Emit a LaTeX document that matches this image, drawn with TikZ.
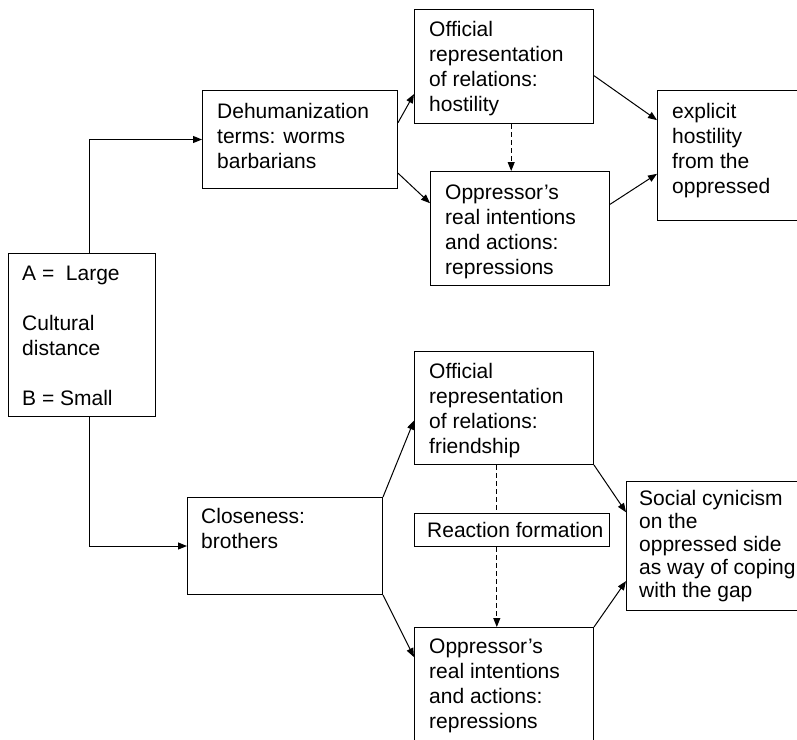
\documentclass[tikz,border=0pt]{standalone}
\usepackage{fontspec}
\setmainfont{Liberation Sans}
\usetikzlibrary{arrows.meta,calc}
\begin{document}
\begin{tikzpicture}[x=1pt,y=-1pt,
  box/.style={draw, line width=1pt, inner sep=0pt, anchor=north west},
  txt/.style={anchor=north west, inner sep=0pt, align=left, font=\fontsize{21}{25}\selectfont},
  txtt/.style={anchor=north west, inner sep=0pt, align=left, font=\fontsize{21}{23}\selectfont},
  arr/.style={line width=1pt, -{Triangle[length=9pt,width=7pt]}},
  dsh/.style={line width=1pt, dash pattern=on 5pt off 3pt}]
\useasboundingbox (0,0) rectangle (797,739);
\clip (0,0) rectangle (797,739);
% boxes
\node[box, minimum width=147pt, minimum height=163pt] (A) at (8,253) {};
\node[box, minimum width=195pt, minimum height=98pt] (deh) at (202,90) {};
\node[box, minimum width=179pt, minimum height=114pt] (off1) at (414,9) {};
\node[box, minimum width=179pt, minimum height=114pt] (opp1) at (430,171) {};
\node[box, minimum width=160pt, minimum height=130pt] (exp) at (657,90) {};
\node[box, minimum width=179pt, minimum height=113pt] (off2) at (414,351) {};
\node[box, minimum width=195pt, minimum height=33pt] (rea) at (414,513) {};
\node[box, minimum width=179pt, minimum height=130pt] (opp2) at (414,627) {};
\node[box, minimum width=190pt, minimum height=129pt] (soc) at (626,481) {};
\node[box, minimum width=195pt, minimum height=97pt] (clo) at (187,497) {};
% texts
\node[txt] (tA) at (22,262.5) {\strut A =\ \ Large\\[25pt]Cultural\\distance\\[25pt]B = Small};
\node[txt] (tdeh) at (217,100.5) {\strut Dehumanization\\terms: worms\\barbarians};
\node[txt] (toff1) at (429,18.5) {\strut Official\\representation\\of relations:\\hostility};
\node[txt] (topp1) at (445,181.5) {\strut Oppressor’s\\real intentions\\and actions:\\repressions};
\node[txt] (texp) at (672,100.5) {\strut explicit\\hostility\\from the\\oppressed};
\node[txt] (toff2) at (429,360.5) {\strut Official\\representation\\of relations:\\friendship};
\node[txt] (trea) at (427,519.5) {\strut Reaction formation};
\node[txt] (topp2) at (429,635.5) {\strut Oppressor’s\\real intentions\\and actions:\\repressions};
\node[txtt] (tsoc) at (639,488.9) {\strut Social cynicism\\on the\\oppressed side\\as way of coping\\with the gap};
\node[txt] (tclo) at (201,505.5) {\strut Closeness:\\brothers};
% connectors top
\draw[arr] ($(A.north west)!0.55!(A.north east)$) |- (deh.west);
\draw[arr] ($(deh.north east)!0.33!(deh.south east)$) -- ($(off1.north west)!0.74!(off1.south west)$);
\draw[arr] ($(deh.north east)!0.84!(deh.south east)$) -- ($(opp1.north west)!0.28!(opp1.south west)$);
\draw[arr] ($(off1.north east)!0.58!(off1.south east)$) -- ($(exp.north west)!0.23!(exp.south west)$);
\draw[arr] ($(opp1.north east)!0.29!(opp1.south east)$) -- ($(exp.north west)!0.64!(exp.south west)$);
\coordinate (d1) at ($(off1.south west)!0.54!(off1.south east)$);
\draw[dsh,arr] (d1) -- (d1 |- opp1.north);
% connectors bottom
\draw[arr] ($(A.south west)!0.55!(A.south east)$) |- (clo.west);
\draw[arr] (clo.north east) -- ($(off2.north west)!0.61!(off2.south west)$);
\draw[arr] (clo.south east) -- ($(opp2.north west)!0.23!(opp2.south west)$);
\draw[arr] (off2.south east) -- ($(soc.north west)!0.24!(soc.south west)$);
\draw[arr] (opp2.north east) -- ($(soc.north west)!0.77!(soc.south west)$);
\coordinate (d2) at ($(off2.south west)!0.46!(off2.south east)$);
\draw[dsh] (d2) -- (d2 |- rea.north);
\draw[dsh,arr] (d2 |- rea.south) -- (d2 |- opp2.north);
\end{tikzpicture}
\end{document}
